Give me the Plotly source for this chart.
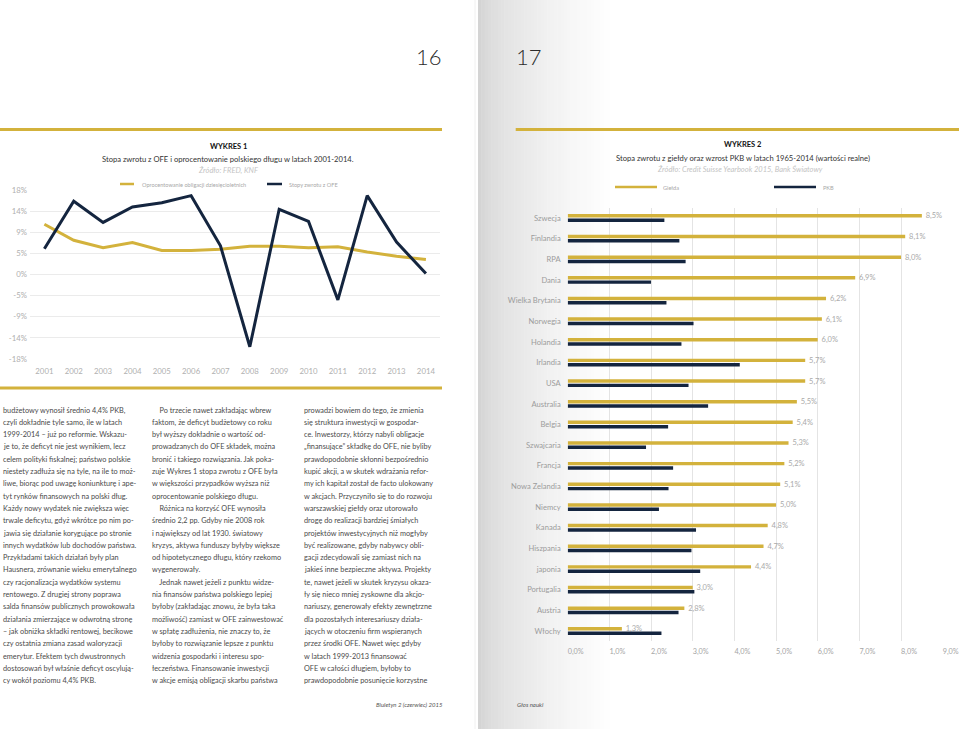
import plotly.graph_objects as go

W, H = 959, 729

# ---------------- data: WYKRES 1 ----------------
years = [2001, 2002, 2003, 2004, 2005, 2006, 2007, 2008, 2009, 2010, 2011, 2012, 2013, 2014]
bond_yield = [10.7, 7.3, 5.7, 6.8, 5.1, 5.1, 5.4, 6.0, 6.0, 5.7, 5.9, 4.8, 3.9, 3.2]
ofe_return = [5.5, 15.6, 11.1, 14.4, 15.3, 16.8, 6.1, -15.4, 13.9, 11.3, -5.4, 16.8, 6.9, 0.2]
y1_tickvals = [-18, -13.5, -9, -4.5, 0, 4.5, 9, 13.5, 18]
y1_ticktext = ["-18%", "-14%", "-9%", "-5%", "0%", "5%", "9%", "14%", "18%"]

# ---------------- data: WYKRES 2 ----------------
countries = ["Szwecja", "Finlandia", "RPA", "Dania", "Wielka Brytania", "Norwegia", "Holandia",
             "Irlandia", "USA", "Australia", "Belgia", "Szwajcaria", "Francja", "Nowa Zelandia",
             "Niemcy", "Kanada", "Hiszpania", "japonia", "Portugalia", "Austria", "Włochy"]
gielda = [8.5, 8.1, 8.0, 6.9, 6.2, 6.1, 6.0, 5.7, 5.7, 5.5, 5.4, 5.3, 5.2, 5.1, 5.0, 4.8, 4.7, 4.4, 3.0, 2.8, 1.3]
pkb = [2.32, 2.68, 2.83, 2.0, 2.37, 3.02, 2.73, 4.13, 2.90, 3.37, 2.41, 1.88, 2.53, 2.42, 2.19, 3.08, 2.97,
       3.18, 3.04, 2.66, 2.25]
x2_tickvals = [0, 1, 2, 3, 4, 5, 6, 7, 8, 9]
x2_ticktext = ["0,0%", "1,0%", "2,0%", "3,0%", "4,0%", "5,0%", "6,0%", "7,0%", "8,0%", "9,0%"]

# ---------------- body text ----------------
col1 = [
    "budżetowy wynosił średnio 4,4% PKB,",
    "czyli dokładnie tyle samo, ile w latach",
    "1999-2014 – już po reformie. Wskazu-",
    "je to, że deficyt nie jest wynikiem, lecz",
    "celem polityki fiskalnej; państwo polskie",
    "niestety zadłuża się na tyle, na ile to moż-",
    "liwe, biorąc pod uwagę koniunkturę i ape-",
    "tyt rynków finansowych na polski dług.",
    "Każdy nowy wydatek nie zwiększa więc",
    "trwale deficytu, gdyż wkrótce po nim po-",
    "jawia się działanie korygujące po stronie",
    "innych wydatków lub dochodów państwa.",
    "Przykładami takich działań były plan",
    "Hausnera, zrównanie wieku emerytalnego",
    "czy racjonalizacja wydatków systemu",
    "rentowego. Z drugiej strony poprawa",
    "salda finansów publicznych prowokowała",
    "działania zmierzające w odwrotną stronę",
    "– jak obniżka składki rentowej, becikowe",
    "czy ostatnia zmiana zasad waloryzacji",
    "emerytur. Efektem tych dwustronnych",
    "dostosowań był właśnie deficyt oscylują-",
    "cy wokół poziomu 4,4% PKB.",
]
col2 = [
    "   Po trzecie nawet zakładając wbrew",
    "faktom, że deficyt budżetowy co roku",
    "był wyższy dokładnie o wartość od-",
    "prowadzanych do OFE składek, można",
    "bronić i takiego rozwiązania. Jak poka-",
    "zuje Wykres 1 stopa zwrotu z OFE była",
    "w większości przypadków wyższa niż",
    "oprocentowanie polskiego długu.",
    "   Różnica na korzyść OFE wynosiła",
    "średnio 2,2 pp. Gdyby nie 2008 rok",
    "i największy od lat 1930. światowy",
    "kryzys, aktywa funduszy byłyby większe",
    "od hipotetycznego długu, który rzekomo",
    "wygenerowały.",
    "   Jednak nawet jeżeli z punktu widze-",
    "nia finansów państwa polskiego lepiej",
    "byłoby (zakładając znowu, że była taka",
    "możliwość) zamiast w OFE zainwestować",
    "w spłatę zadłużenia, nie znaczy to, że",
    "byłoby to rozwiązanie lepsze z punktu",
    "widzenia gospodarki i interesu spo-",
    "łeczeństwa. Finansowanie inwestycji",
    "w akcje emisją obligacji skarbu państwa",
]
col3 = [
    "prowadzi bowiem do tego, że zmienia",
    "się struktura inwestycji w gospodar-",
    "ce. Inwestorzy, którzy nabyli obligacje",
    "„finansujące” składkę do OFE, nie byliby",
    "prawdopodobnie skłonni bezpośrednio",
    "kupić akcji, a w skutek wdrażania refor-",
    "my ich kapitał został de facto ulokowany",
    "w akcjach. Przyczyniło się to do rozwoju",
    "warszawskiej giełdy oraz utorowało",
    "drogę do realizacji bardziej śmiałych",
    "projektów inwestycyjnych niż mogłyby",
    "być realizowane, gdyby nabywcy obli-",
    "gacji zdecydowali się zamiast nich na",
    "jakieś inne bezpieczne aktywa. Projekty",
    "te, nawet jeżeli w skutek kryzysu okaza-",
    "ły się nieco mniej zyskowne dla akcjo-",
    "nariuszy, generowały efekty zewnętrzne",
    "dla pozostałych interesariuszy działa-",
    "jących w otoczeniu firm wspieranych",
    "przez środki OFE. Nawet więc gdyby",
    "w latach 1999-2013 finansować",
    "OFE w całości długiem, byłoby to",
    "prawdopodobnie posunięcie korzystne",
]

GOLD = "#D3B23C"
NAVY = "#14253F"
FONT = "Lato"


def X(px):
    return px / W


def Y(py):
    return 1 - py / H


fig = go.Figure()

# ---- WYKRES 1 traces ----
fig.add_trace(go.Scatter(x=years, y=bond_yield, mode="lines", line=dict(color=GOLD, width=3),
                         xaxis="x", yaxis="y", showlegend=False, hoverinfo="skip"))
fig.add_trace(go.Scatter(x=years, y=ofe_return, mode="lines", line=dict(color=NAVY, width=3),
                         xaxis="x", yaxis="y", showlegend=False, hoverinfo="skip"))

# ---- WYKRES 2 traces ----
labels = ["\u00a0\u00a0" + f"{v:.1f}%".replace(".", ",") for v in gielda]
fig.add_trace(go.Bar(x=gielda, y=countries, orientation="h", marker=dict(color=GOLD, line=dict(width=0)),
                     text=labels, textposition="outside", constraintext="none", cliponaxis=False,
                     textfont=dict(size=7.5, color="#a9a9a9", family=FONT),
                     xaxis="x2", yaxis="y2", showlegend=False, hoverinfo="skip"))
fig.add_trace(go.Bar(x=pkb, y=countries, orientation="h", marker=dict(color=NAVY, line=dict(width=0)),
                     xaxis="x2", yaxis="y2", showlegend=False, hoverinfo="skip"))

shapes = []
# right page gutter shading
n = 40
x0, x1 = 478, 610
for i in range(n):
    a = x0 + (x1 - x0) * i / n
    b = x0 + (x1 - x0) * (i + 1) / n
    t = (i + 0.5) / n
    g = int(208 + (255 - 208) * (t ** 0.55))
    shapes.append(dict(type="rect", xref="paper", yref="paper", x0=X(a), x1=X(b) + 0.0005, y0=0, y1=1,
                       fillcolor=f"rgb({g},{g},{g})", line=dict(width=0), layer="below"))
shapes.append(dict(type="line", xref="paper", yref="paper", x0=X(475), x1=X(475), y0=0, y1=1,
                   line=dict(color="#f0f0f0", width=1), layer="below"))
# gold rules
shapes.append(dict(type="line", xref="paper", yref="paper", x0=X(0), x1=X(442), y0=Y(129.5), y1=Y(129.5),
                   line=dict(color=GOLD, width=3)))
shapes.append(dict(type="line", xref="paper", yref="paper", x0=X(0), x1=X(442), y0=Y(388), y1=Y(388),
                   line=dict(color=GOLD, width=3)))
shapes.append(dict(type="line", xref="paper", yref="paper", x0=X(515.7), x1=X(959), y0=Y(129.5), y1=Y(129.5),
                   line=dict(color=GOLD, width=3)))
# legend keys
for (a, b, yy, c) in [(120, 134, 184, GOLD), (267, 282, 184, NAVY), (615, 657, 187, GOLD), (774, 816, 187, NAVY)]:
    shapes.append(dict(type="line", xref="paper", yref="paper", x0=X(a), x1=X(b), y0=Y(yy), y1=Y(yy),
                       line=dict(color=c, width=2.5)))

ann = []


def text(x, y, s, size, color="#333333", xanchor="center", italic=False, bold=False, family=FONT, weight=None):
    f = dict(size=size, color=color, family=family)
    if italic:
        f["style"] = "italic"
    if bold:
        f["weight"] = "bold"
    if weight:
        f["weight"] = weight
    ann.append(dict(x=X(x), y=Y(y), xref="paper", yref="paper", text=s, showarrow=False,
                    xanchor=xanchor, yanchor="middle", font=f))


# page numbers
text(429, 57, "16", 22, "#2b2b2b", weight=300)
text(529, 57, "17", 22, "#2b2b2b", weight=300)

# headers
text(228, 146.5, "WYKRES 1", 7.5, "#111111", bold=True)
text(228, 159, "Stopa zwrotu z OFE i oprocentowanie polskiego długu w latach 2001-2014.", 7.6, "#333333")
text(228, 171, "Źródło: FRED, KNF", 7.5, "#c4c4c4", italic=True)
text(140, 184, "Oprocentowanie obligacji dziesięcioletnich", 5.6, "#a8a8a8", xanchor="left")
text(287, 184, "Stopy zwrotu z OFE", 5.6, "#a8a8a8", xanchor="left")

text(742.5, 145, "WYKRES 2", 7.5, "#111111", bold=True)
text(742.5, 157.8, "Stopa zwrotu z giełdy oraz wzrost PKB w latach 1965-2014 (wartości realne)", 7.6, "#333333")
text(740, 169.5, "Źródło: Credit Suisse Yearbook 2015, Bank Światowy", 7.5, "#c4c4c4", italic=True)
text(661, 187, "Giełda", 5.6, "#a8a8a8", xanchor="left")
text(821, 187, "PKB", 5.6, "#a8a8a8", xanchor="left")

# body columns
for lines, x in [(col1, 0.5), (col2, 150), (col3, 301.5)]:
    for i, s in enumerate(lines):
        text(x, 410 + i * 12.3, s.replace("   ", "&nbsp;&nbsp;&nbsp;&nbsp;"), 7.3, "#4a4a4a", xanchor="left")

# footer
text(409, 704, "Biuletyn 2 (czerwiec) 2015", 6, "#555555", italic=True)
text(530, 704, "Głos nauki", 6, "#555555", italic=True)

axfont = dict(size=7.8, color="#b0b0b0", family=FONT)
fig.update_layout(
    width=W, height=H, autosize=False,
    margin=dict(l=0, r=0, t=0, b=0, pad=0, autoexpand=False),
    paper_bgcolor="white", plot_bgcolor="rgba(0,0,0,0)",
    showlegend=False,
    barmode="group", bargap=0.58, bargroupgap=0.2,
    shapes=shapes, annotations=ann,
    xaxis=dict(domain=[X(30), X(440)], range=[2000.51, 2014.48], tickvals=years, showgrid=False,
               zeroline=False, showline=False, ticks="", tickfont=axfont, anchor="y", ticklabelstandoff=6,
               fixedrange=True, automargin=False),
    yaxis=dict(domain=[Y(359), Y(190)], range=[-18, 18], tickvals=y1_tickvals, ticktext=y1_ticktext,
               showgrid=True, gridcolor="#ebebeb", gridwidth=1, zeroline=False, showline=False, ticks="",
               tickfont=axfont, anchor="x", ticklabelstandoff=2, fixedrange=True, automargin=False),
    xaxis2=dict(domain=[X(567.7), X(942.7)], range=[0, 9], tickvals=x2_tickvals, ticktext=x2_ticktext,
                showgrid=True, gridcolor="#e4e4e4", gridwidth=1, zeroline=False, showline=False, ticks="",
                tickfont=dict(size=7.3, color="#a5a5a5", family=FONT), anchor="y2", ticklabelshift=8,
                ticklabelstandoff=4, fixedrange=True, automargin=False),
    yaxis2=dict(domain=[Y(641.3), Y(207.7)], type="category", categoryorder="array", categoryarray=countries,
                range=[20.5, -0.5], showgrid=False, zeroline=False, showline=False, ticks="",
                tickfont=dict(size=7.6, color="#9c9c9c", family=FONT), anchor="x2", ticklabelstandoff=6,
                fixedrange=True, automargin=False),
)

fig.write_html("out.html", config={"displayModeBar": False},
               post_script="document.body.style.margin='0';document.body.style.overflow='hidden';")
